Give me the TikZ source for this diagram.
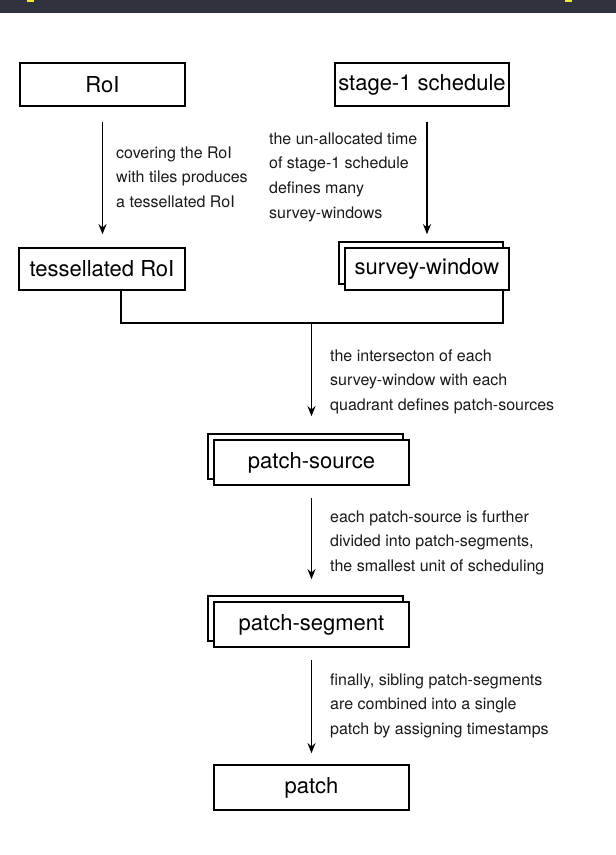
\documentclass[tikz,border=0pt]{standalone}
\usepackage{fontspec}
\setmainfont{TeX Gyre Heros}
\usetikzlibrary{arrows.meta,shadows}
\definecolor{bannerc}{RGB}{48,50,62}
\definecolor{marky}{RGB}{240,230,60}
\begin{document}
\begin{tikzpicture}[x=1pt,y=-1pt,
 box/.style={draw=black,line width=1.7pt,fill=white,inner sep=0pt,font=\fontsize{22}{26}\selectfont},
 stack/.style={box,copy shadow={shadow xshift=-6pt,shadow yshift=6pt,draw=black,fill=white,line width=1.7pt}},
 lbl/.style={anchor=base west,align=left,inner sep=0pt,font=\fontsize{16}{24.7}\selectfont,text=black!90},
 arr/.style={line width=1.9pt,-{Stealth[length=10pt,width=8pt]}},
 ln/.style={line width=1.9pt}]
\useasboundingbox (0,0) rectangle (616,855);
\fill[bannerc] (0,0) rectangle (616,13);
\fill[marky] (27,0) rectangle (34,2);
\fill[marky] (565,0) rectangle (572,2);

\node[box,minimum width=165pt,minimum height=43pt] (roi) at (102.5,84.5) {RoI};
\node[box,minimum width=174pt,minimum height=43pt] (st) at (422,84.5) {stage-1 schedule};
\node[box,minimum width=166pt,minimum height=42pt] (tess) at (102,269) {tessellated RoI};
\node[stack,minimum width=164pt,minimum height=42pt] (sw) at (427,269) {survey-window};
\node[stack,minimum width=195pt,minimum height=45pt] (ps) at (311.5,462.5) {patch-source};
\node[stack,minimum width=195pt,minimum height=45pt] (seg) at (311.5,624.5) {patch-segment};
\node[box,minimum width=195pt,minimum height=45pt] (pa) at (311.5,787.5) {patch};

\node[lbl] (l1) at (116,207.4) {covering the RoI\\with tiles produces\\a tessellated RoI};
\node[lbl] (l2) at (269,218.1) {the un-allocated time\\of stage-1 schedule\\defines many\\survey-windows};
\node[lbl] (l3) at (330,410.4) {the intersecton of each\\survey-window with each\\quadrant defines patch-sources};
\node[lbl] (l4) at (330,571.4) {each patch-source is further\\divided into patch-segments,\\the smallest unit of scheduling};
\node[lbl] (l5) at (330,734.4) {finally, sibling patch-segments\\are combined into a single\\patch by assigning timestamps};

\draw[arr,shorten <=15pt,shorten >=13pt] (roi.south) -- (roi.south |- tess.north);
\draw[arr,shorten <=15pt,shorten >=13pt] (sw.north |- st.south) -- (sw.north);

\coordinate (jl) at (121,323);
\coordinate (jr) at (503,323);
\coordinate (jc) at (311.5,323);
\draw[ln] (tess.south -| jl) -- (jl) -- (jr) -- (sw.south -| jr);
\draw[arr,shorten >=23pt] (jc) -- (ps.north);
\draw[arr,shorten <=12pt,shorten >=22pt] (ps.south) -- (seg.north);
\draw[arr,shorten <=12pt,shorten >=11pt] (seg.south) -- (pa.north);
\end{tikzpicture}
\end{document}
